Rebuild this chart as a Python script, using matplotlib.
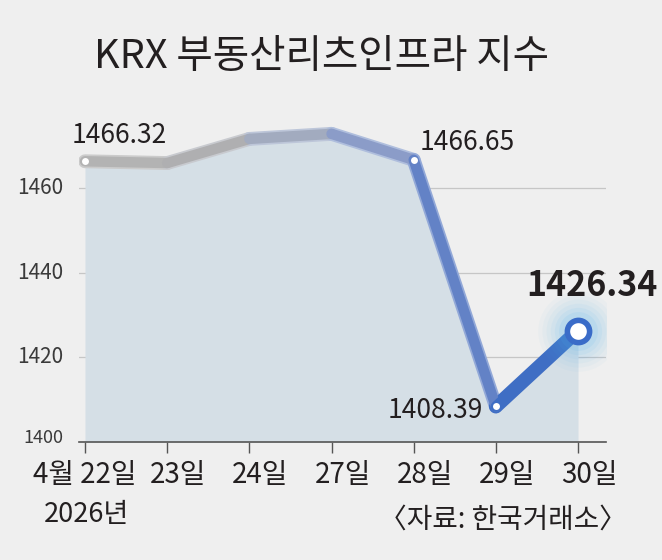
import matplotlib
matplotlib.use("Agg")
import matplotlib.pyplot as plt
from matplotlib.collections import LineCollection
import numpy as np

# ---- data ----
dates = ["4월 22일", "23일", "24일", "27일", "28일", "29일", "30일"]
values = [1466.32, 1465.9, 1471.6, 1472.8, 1466.65, 1408.39, 1426.34]
yticks = [1400, 1420, 1440, 1460]
labeled_idx = [0, 4, 5, 6]
title = "KRX 부동산리츠인프라 지수"
year_label = "2026년"
source = "〈자료: 한국거래소〉"

FONT = ['Noto Sans CJK KR', 'DejaVu Sans']
plt.rcParams['font.family'] = FONT

BG = "#efefef"
TXT = "#231f20"
W, H = 662, 560
fig = plt.figure(figsize=(W / 100, H / 100), dpi=100, facecolor=BG)

# axes placement in pixels
ax_l, ax_r = 79, 606
ax_b, ax_t = 442, 102
PXX = 82.2          # px per category step
PXY = 4.233         # px per index unit
ax = fig.add_axes([ax_l / W, (H - ax_b) / H, (ax_r - ax_l) / W, (ax_b - ax_t) / H])
ax.set_facecolor(BG)
x = np.arange(len(values))
ax.set_xlim(-(85 - ax_l) / PXX, 6 + (ax_r - 578) / PXX)
ax.set_ylim(1400, 1400 + (ax_b - ax_t) / PXY)

for s in ["top", "right", "left"]:
    ax.spines[s].set_visible(False)
ax.spines["bottom"].set_color("#555555")
ax.spines["bottom"].set_linewidth(1.2)

# grid
for yv in yticks[1:]:
    ax.axhline(yv, color="#c6c6c6", lw=0.9, zorder=1)

# fill
ax.fill_between(x, values, 1400, color="#d5dfe6", zorder=2, lw=0)

# line segments with colour progression
seg_colors = ["#b3b3b3", "#afafb1", "#a2abbf", "#8b9cc8", "#6382c6", "#3f6ec4"]
halo_colors = ["#cbcbcb", "#c8cacf", "#bdc6d9", "#afbedd", "#93a9d8", "#3f6ec4"]
pts = np.column_stack([x, values])
segs = [pts[i:i + 2] for i in range(len(values) - 1)]
ax.add_collection(LineCollection(segs, colors=halo_colors, linewidths=10,
                                 capstyle="round", joinstyle="round", zorder=3))
ax.add_collection(LineCollection(segs, colors=seg_colors, linewidths=7.5,
                                 capstyle="round", joinstyle="round", zorder=4))

# small white dots
for i in [0, 4, 5]:
    ax.plot(x[i], values[i], "o", ms=5, mfc="white", mec="none", zorder=6)

# glow for final point
for r, a in [(58, 0.035), (52, 0.04), (46, 0.05), (40, 0.06), (34, 0.08), (28, 0.1)]:
    ax.plot(x[6], values[6], "o", ms=r, mfc="#4fb0ec", mec="none", alpha=a, zorder=5)
ax.plot(x[6], values[6], "o", ms=16, mfc="white", mec="#3a6cc8", mew=4, zorder=7)

# value labels (offsets in px)
lab_style = {
    0: dict(dx=34, dy=-26, size=19, weight="normal"),
    4: dict(dx=54, dy=-17, size=19, weight="normal"),
    5: dict(dx=-61, dy=4, size=19, weight="normal"),
    6: dict(dx=14, dy=-45, size=24.5, weight="bold"),
}
for i in labeled_idx:
    st = lab_style[i]
    ax.text(x[i] + st["dx"] / PXX, values[i] - st["dy"] / PXY, f"{values[i]:.2f}",
            fontsize=st["size"], fontweight=st["weight"], ha="center",
            va="center", color=TXT, zorder=8)

# y tick labels
ax.set_yticks([])
for yv in yticks:
    big = yv != 1400
    ax.text(-(85 - 63) / PXX, yv + (0 if big else 1.0), str(yv), ha="right", va="center",
            fontsize=15 if big else 13, color="#3a3a3a")

# x ticks
ax.set_xticks(x)
ax.set_xticklabels([])
ax.tick_params(axis="x", direction="out", length=8, width=1, color="#555555")
for i, d in enumerate(dates):
    off = 0 if i == 0 else 11
    ax.text(x[i] + off / PXX, 1400 - 33 / PXY, d, ha="center", va="center",
            fontsize=20, color=TXT)

fig.text(86 / W, 1 - 515 / H, year_label, ha="center", va="center",
         fontsize=19.5, color=TXT)
fig.text(627 / W, 1 - 520 / H, source, ha="right", va="center",
         fontsize=20, color=TXT)
fig.text(321 / W, 1 - 57 / H, title, ha="center", va="center",
         fontsize=28.5, color=TXT)

fig.savefig("out.png", dpi=100, facecolor=BG)
